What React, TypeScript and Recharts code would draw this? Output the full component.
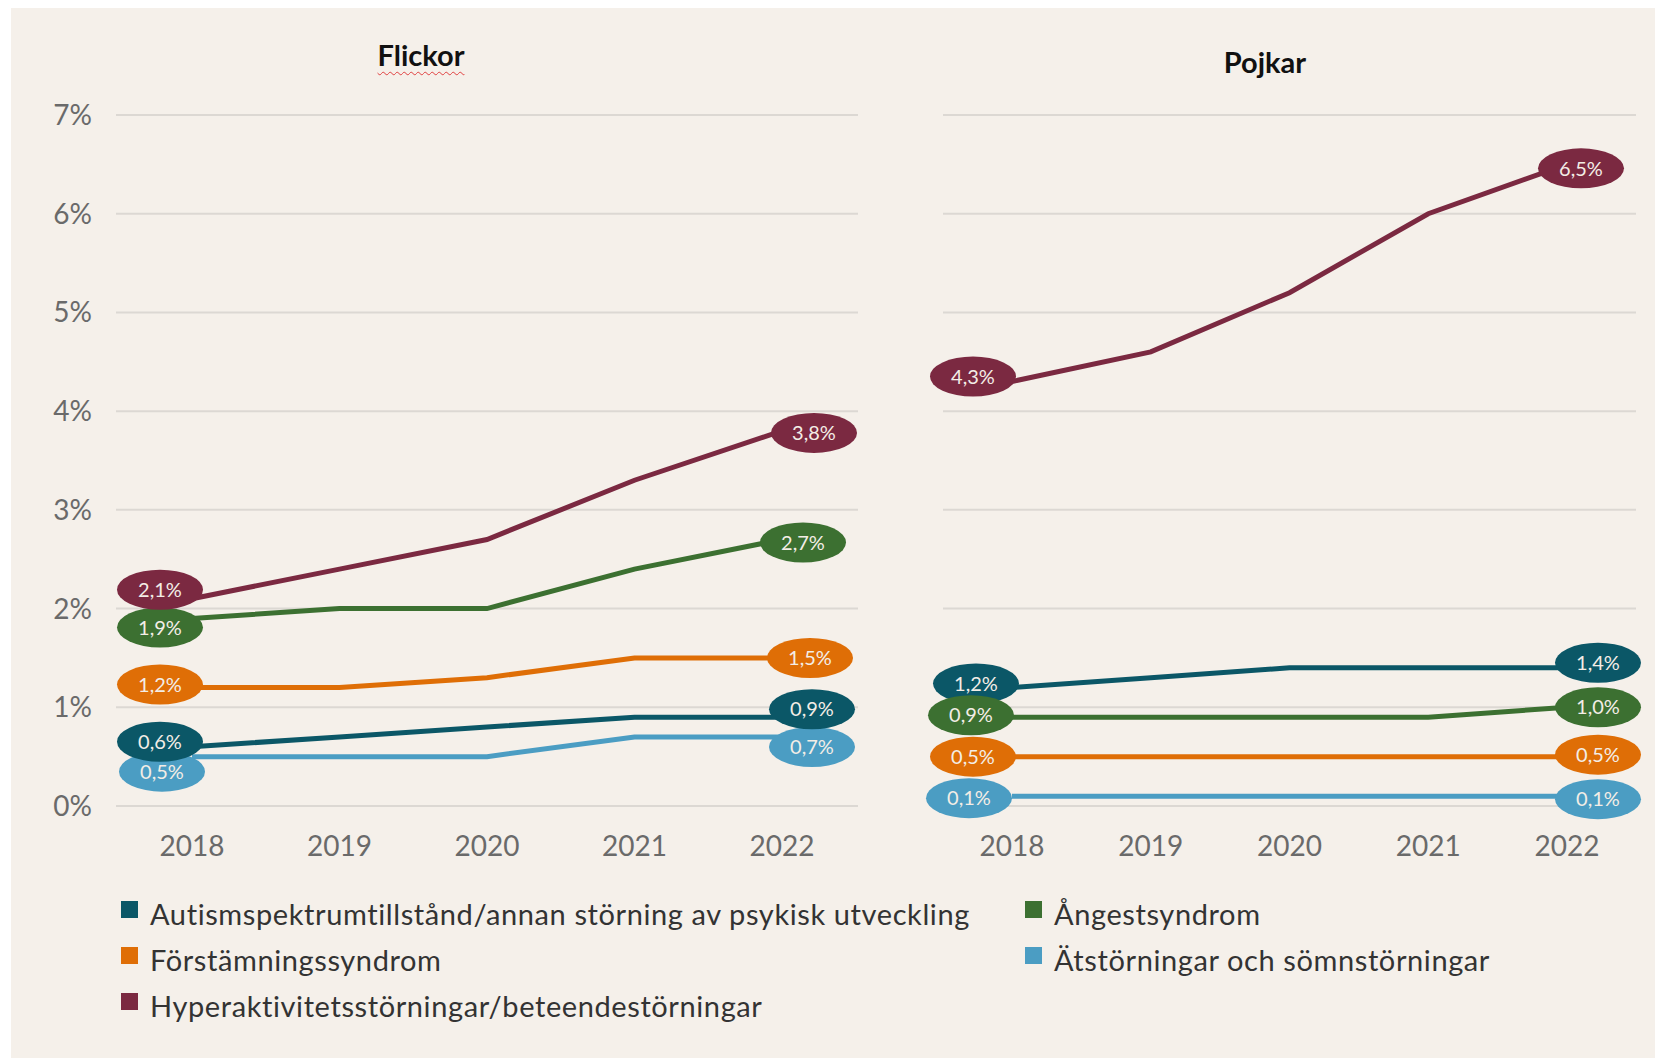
import React from "react";
import { CartesianGrid, Line, LineChart, XAxis, YAxis } from "recharts";

const years = ["2018", "2019", "2020", "2021", "2022"];
const percentTicks = [0, 1, 2, 3, 4, 5, 6, 7];

// Flickor
const girlsAutism = [0.6, 0.7, 0.8, 0.9, 0.9];
const girlsMood = [1.2, 1.2, 1.3, 1.5, 1.5];
const girlsHyper = [2.1, 2.4, 2.7, 3.3, 3.8];
const girlsAnxiety = [1.9, 2.0, 2.0, 2.4, 2.7];
const girlsEating = [0.5, 0.5, 0.5, 0.7, 0.7];

// Pojkar
const boysAutism = [1.2, 1.3, 1.4, 1.4, 1.4];
const boysMood = [0.5, 0.5, 0.5, 0.5, 0.5];
const boysHyper = [4.3, 4.6, 5.2, 6.0, 6.5];
const boysAnxiety = [0.9, 0.9, 0.9, 0.9, 1.0];
const boysEating = [0.1, 0.1, 0.1, 0.1, 0.1];

const FONT = "Lato, 'Open Sans', sans-serif";

// draw order: first one ends up at the bottom
const series = [
    { key: "eating", name: "Ätstörningar och sömnstörningar", color: "#4b9dc3" },
    { key: "autism", name: "Autismspektrumtillstånd/annan störning av psykisk utveckling", color: "#0b5767" },
    { key: "mood", name: "Förstämningssyndrom", color: "#df6e06" },
    { key: "anxiety", name: "Ångestsyndrom", color: "#3c7031" },
    { key: "hyper", name: "Hyperaktivitetsstörningar/beteendestörningar", color: "#7b2941" },
];

const legendRows = [
    ["autism", "anxiety"],
    ["mood", "eating"],
    ["hyper"],
];

const girlsRows = years.map((year, i) => ({
    year,
    autism: girlsAutism[i],
    mood: girlsMood[i],
    hyper: girlsHyper[i],
    anxiety: girlsAnxiety[i],
    eating: girlsEating[i],
}));

const boysRows = years.map((year, i) => ({
    year,
    autism: boysAutism[i],
    mood: boysMood[i],
    hyper: boysHyper[i],
    anxiety: boysAnxiety[i],
    eating: boysEating[i],
}));

// bubble nudges [firstDx, firstDy, lastDx, lastDy]
const girlsNudge: Record<string, number[]> = {
    hyper: [-32, -9, 32, 2],
    anxiety: [-32, 9, 21, 3],
    mood: [-32, -3, 28, 0],
    autism: [-32, -5, 30, -8],
    eating: [-30, 15, 30, 10],
};
const boysNudge: Record<string, number[]> = {
    hyper: [-39, -5, 14, 4],
    autism: [-36, -4, 31, -5],
    anxiety: [-41, -2, 31, 0],
    mood: [-39, 0, 31, -2],
    eating: [-43, 2, 31, 3],
};

const fmt = (v: number) => v.toFixed(1).replace(".", ",") + "%";

const bubble = (color: string, nudge: number[]) => (p: any) => {
    const { cx, cy, index, value } = p;
    const last = years.length - 1;
    if (index !== 0 && index !== last) return <g key={`d-${index}`} />;
    const dx = index === 0 ? nudge[0] : nudge[2];
    const dy = index === 0 ? nudge[1] : nudge[3];
    const v = Array.isArray(value) ? value[1] : value;
    return (
        <g key={`d-${index}`}>
            <ellipse cx={cx + dx} cy={cy + dy} rx={43} ry={20} fill={color} />
            <text
                x={cx + dx}
                y={cy + dy}
                dy="0.36em"
                textAnchor="middle"
                fill="#f3ede6"
                fontSize={20}
                fontFamily={FONT}
            >
                {fmt(v)}
            </text>
        </g>
    );
};

function Panel(props: {
    rows: any[];
    nudge: Record<string, number[]>;
    left: number;
    width: number;
    marginLeft: number;
    marginRight: number;
    showY: boolean;
    pad: number;
}) {
    const { rows, nudge, left, width, marginLeft, marginRight, showY, pad } = props;
    return (
        <div style={{ position: "absolute", left, top: 0 }}>
            <LineChart
                width={width}
                height={880}
                data={rows}
                margin={{ top: 115, right: marginRight, bottom: 14, left: marginLeft }}
            >
                <XAxis
                    dataKey="year"
                    axisLine={false}
                    tickLine={false}
                    tickSize={0}
                    tickMargin={30}
                    height={60}
                    padding={{ left: pad, right: pad }}
                    tick={{ fill: "#6a6a6a", fontSize: 28, fontFamily: FONT }}
                />
                <YAxis
                    hide={!showY}
                    domain={[0, 7]}
                    ticks={percentTicks}
                    width={80}
                    axisLine={false}
                    tickLine={false}
                    tickSize={0}
                    tickMargin={24}
                    tickFormatter={(v) => `${v}%`}
                    tick={{ fill: "#6a6a6a", fontSize: 28, fontFamily: FONT }}
                />
                {/* value bubbles sit under the grid, the lines on top of it */}
                {series.map((s) => (
                    <Line
                        key={`b-${s.key}`}
                        type="linear"
                        dataKey={s.key}
                        stroke="none"
                        dot={bubble(s.color, nudge[s.key])}
                        activeDot={false}
                        legendType="none"
                        isAnimationActive={false}
                    />
                ))}
                <CartesianGrid vertical={false} stroke="#dcd8d3" strokeWidth={2} />
                {series.map((s) => (
                    <Line
                        key={s.key}
                        type="linear"
                        dataKey={s.key}
                        name={s.name}
                        stroke={s.color}
                        strokeWidth={5}
                        dot={false}
                        activeDot={false}
                        isAnimationActive={false}
                    />
                ))}
            </LineChart>
        </div>
    );
}

export default function App() {
    const byKey = Object.fromEntries(series.map((s) => [s.key, s]));
    return (
        <div
            style={{
                position: "absolute",
                left: 0,
                top: 0,
                width: 1655,
                height: 1058,
                background: "#ffffff",
                fontFamily: FONT,
                overflow: "hidden",
            }}
        >
            <div
                style={{
                    position: "absolute",
                    left: 11,
                    top: 8,
                    width: 1644,
                    height: 1050,
                    background: "#f5f0ea",
                }}
            />
            <Panel rows={girlsRows} nudge={girlsNudge} left={0} width={870} marginLeft={36} marginRight={12} showY pad={76} />
            <Panel rows={boysRows} nudge={boysNudge} left={900} width={755} marginLeft={43} marginRight={19} showY={false} pad={69} />

            <div
                style={{
                    position: "absolute",
                    left: 321,
                    width: 200,
                    top: 37,
                    textAlign: "center",
                    fontSize: 29,
                    fontWeight: 700,
                    color: "#111",
                    lineHeight: "36px",
                }}
            >
                <span style={{ textDecoration: "underline wavy #e04040", textDecorationThickness: 1, textUnderlineOffset: 5 }}>
                    Flickor
                </span>
            </div>
            <div
                style={{
                    position: "absolute",
                    left: 1165,
                    width: 200,
                    top: 44,
                    textAlign: "center",
                    fontSize: 29,
                    fontWeight: 700,
                    color: "#111",
                    lineHeight: "36px",
                }}
            >
                Pojkar
            </div>

            {legendRows.map((row, r) =>
                row.map((k, c) => (
                    <div
                        key={k}
                        style={{
                            position: "absolute",
                            left: c === 0 ? 121 : 1025,
                            top: 913 + r * 46 - 18,
                            height: 36,
                            display: "flex",
                            alignItems: "center",
                            fontSize: 29,
                            letterSpacing: 0.6,
                            color: "#333",
                            whiteSpace: "nowrap",
                        }}
                    >
                        <span
                            style={{
                                display: "inline-block",
                                width: 17,
                                height: 17,
                                background: byKey[k].color,
                                marginRight: 12,
                                marginTop: -8,
                            }}
                        />
                        {byKey[k].name}
                    </div>
                ))
            )}
        </div>
    );
}
